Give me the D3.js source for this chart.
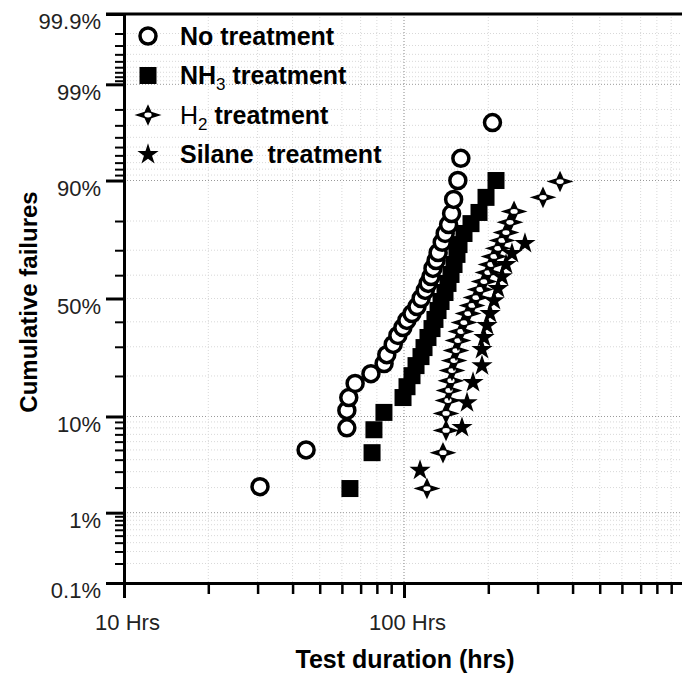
<!DOCTYPE html>
<html>
<head>
<meta charset="utf-8">
<script src="https://cdn.jsdelivr.net/npm/d3@7"></script>
<style>
  body { margin: 0; background: #fff; }
  svg { display: block; font-family: "Liberation Sans", Arial, sans-serif; }
</style>
</head>
<body>
<svg id="chart" width="682" height="680"></svg>
<script>
// failure data (hours, cumulative %)
var noTreatHours = [30.6, 44.7, 62.5, 62.5, 63.5, 66.9, 76.2, 84.9, 86.8, 91.5, 95.1, 99.1, 102.4, 106.8, 111.3, 115.1, 119.1, 122.0, 124.9, 126.9, 130.2, 132.4, 136.9, 140.3, 144.3, 147.9, 150.4, 155.7, 159.6, 207];
var noTreatPct = [2.05, 5.0, 8.0, 11.2, 14.1, 17.8, 20.7, 24.0, 27.1, 30.9, 34.4, 37.6, 40.6, 43.5, 46.5, 50.0, 53.5, 56.5, 59.4, 62.8, 66.0, 69.1, 72.9, 76.0, 78.9, 82.2, 85.9, 90.0, 93.6, 97.2];

var nh3Hours = [64.1, 76.9, 78.1, 84.8, 99.2, 102.5, 106.8, 110.4, 115.0, 117.9, 121.8, 125.9, 129.0, 132.3, 135.6, 140.1, 143.6, 147.2, 150.9, 154.6, 157.2, 163.8, 173.5, 185.3, 196.3, 213.1];
var nh3Pct = [1.95, 4.7, 7.7, 10.8, 14.1, 16.9, 20.1, 23.3, 26.4, 29.7, 33.6, 37.2, 41.0, 44.8, 48.7, 52.6, 56.5, 60.3, 64.4, 68.4, 72.1, 76.0, 79.2, 82.5, 86.4, 90.0];

var h2Hours = [120.8, 137.8, 141.3, 141.3, 143.6, 144.8, 147.2, 148.4, 150.9, 153.4, 155.9, 159.8, 163.8, 169.3, 175.0, 180.8, 186.9, 193.1, 199.5, 204.5, 209.6, 216.6, 223.9, 231.4, 239.1, 247.2, 313.6, 360.8];
var h2Pct = [1.95, 4.7, 7.6, 10.6, 13.4, 15.9, 18.6, 21.7, 25.0, 28.6, 32.4, 36.0, 39.7, 43.5, 47.0, 50.4, 53.9, 57.3, 61.1, 64.4, 67.6, 70.7, 73.6, 76.3, 79.6, 82.8, 86.4, 89.8];

var silaneHours = [114.1, 161.1, 167.9, 176.4, 189.9, 189.9, 193.1, 197.9, 202.9, 209.6, 216.6, 223.9, 231.4, 243.0, 270.4];
var silanePct = [3.1, 8.05, 12.9, 18.1, 23.3, 29.0, 33.6, 38.5, 43.5, 49.1, 54.3, 59.4, 64.4, 68.8, 72.5];

// axis ticks
var yMajor = [0.1, 1, 10, 50, 90, 99, 99.9];
var yMinor = [0.2, 0.3, 0.4, 0.5, 0.6, 0.7, 0.8, 0.9, 2, 3, 4, 5, 6, 7, 8, 9, 20, 30, 40, 60, 70, 80,
  91, 92, 93, 94, 95, 96, 97, 98, 99.1, 99.2, 99.3, 99.4, 99.5, 99.6, 99.7, 99.8];
var xMajor = [10, 100];
var xMinor = [20, 30, 40, 50, 60, 70, 80, 90, 200, 300, 400, 500, 600, 700, 800, 900];
var legendNames = ["No treatment", "NH3 treatment", "H2 treatment", "Silane  treatment"];

// inverse normal cdf (Acklam)
function probit(p) {
  var a = [-39.69683028665376, 220.9460984245205, -275.9285104469687, 138.3577518672690, -30.66479806614716, 2.506628277459239];
  var b = [-54.47609879822406, 161.5858368580409, -155.6989798598866, 66.80131188771972, -13.28068155288572];
  var c = [-0.007784894002430293, -0.3223964580411365, -2.400758277161838, -2.549732539343734, 4.374664141464968, 2.938163982698783];
  var d = [0.007784695709041462, 0.3224671290700398, 2.445134137142996, 3.754408661907416];
  var q, r;
  if (p < 0.02425) {
    q = Math.sqrt(-2 * Math.log(p));
    return (((((c[0]*q+c[1])*q+c[2])*q+c[3])*q+c[4])*q+c[5]) / ((((d[0]*q+d[1])*q+d[2])*q+d[3])*q+1);
  } else if (p > 1 - 0.02425) {
    q = Math.sqrt(-2 * Math.log(1 - p));
    return -(((((c[0]*q+c[1])*q+c[2])*q+c[3])*q+c[4])*q+c[5]) / ((((d[0]*q+d[1])*q+d[2])*q+d[3])*q+1);
  }
  q = p - 0.5; r = q * q;
  return (((((a[0]*r+a[1])*r+a[2])*r+a[3])*r+a[4])*r+a[5])*q / (((((b[0]*r+b[1])*r+b[2])*r+b[3])*r+b[4])*r+1);
}

var plotLeft = 124, plotRight = 684, plotTop = 14, plotBottom = 583;
var svg = d3.select("#chart");

var x = d3.scaleLog().domain([10, 1000]).range([plotLeft, plotRight]);
var zScale = d3.scaleLinear().domain([probit(0.001), probit(0.999)]).range([plotBottom, plotTop]);
function y(pct) { return zScale(probit(pct / 100)); }

// grid
var grid = svg.append("g");
var darkY = [1, 10, 90, 99];
grid.selectAll("line.gy")
  .data(yMinor.concat(yMajor).filter(v => v > 0.1 && v < 99.9))
  .enter().append("line")
  .attr("x1", plotLeft).attr("x2", plotRight)
  .attr("y1", d => y(d)).attr("y2", d => y(d))
  .attr("stroke", d => darkY.indexOf(d) >= 0 ? "#999" : "#d8d8d8")
  .attr("stroke-width", 1)
  .attr("stroke-dasharray", "1,2");
grid.selectAll("line.gx")
  .data(xMinor.concat([100]))
  .enter().append("line")
  .attr("x1", d => x(d)).attr("x2", d => x(d))
  .attr("y1", plotTop).attr("y2", plotBottom)
  .attr("stroke", d => d == 100 ? "#888" : "#d8d8d8")
  .attr("stroke-width", 1)
  .attr("stroke-dasharray", "1,2");

// axes
var yMajAxis = d3.axisLeft(zScale)
  .tickValues(yMajor.map(v => probit(v / 100)))
  .tickSize(18).tickSizeOuter(0).tickPadding(5)
  .tickFormat((d, i) => yMajor[i] + "%");
var yMinAxis = d3.axisLeft(zScale)
  .tickValues(yMinor.map(v => probit(v / 100)))
  .tickSize(9).tickSizeOuter(0).tickFormat("");
var xMajAxis = d3.axisBottom(x).tickValues(xMajor).tickSize(15).tickSizeOuter(0).tickPadding(16)
  .tickFormat(d => d + " Hrs");
var xMinAxis = d3.axisBottom(x).tickValues(xMinor).tickSize(11).tickSizeOuter(0).tickFormat("");

var gy2 = svg.append("g").attr("transform", "translate(" + plotLeft + ",0)").call(yMinAxis);
var gy = svg.append("g").attr("transform", "translate(" + plotLeft + ",0)").call(yMajAxis);
var gx2 = svg.append("g").attr("transform", "translate(0," + plotBottom + ")").call(xMinAxis);
var gx = svg.append("g").attr("transform", "translate(0," + plotBottom + ")").call(xMajAxis);

[gy, gy2, gx, gx2].forEach(g => {
  g.selectAll("path.domain").attr("stroke", "#000").attr("stroke-width", 3);
  g.selectAll("line").attr("stroke", "#000");
});
gy.selectAll(".tick line").attr("stroke-width", 3);
gy2.selectAll(".tick line").attr("stroke-width", 2);
gx.selectAll(".tick line").attr("stroke-width", 3);
gx2.selectAll(".tick line").attr("stroke-width", 2.5);
gy.selectAll("text").attr("font-size", 22).attr("fill", "#222").attr("dy", "0.68em")
  .attr("font-family", "Liberation Sans, Arial, sans-serif");
gx.selectAll("text").attr("font-size", 22).attr("fill", "#222")
  .attr("font-family", "Liberation Sans, Arial, sans-serif");
gx.selectAll(".tick text").attr("dx", 3);

// top frame line
svg.append("line").attr("x1", plotLeft - 18).attr("x2", plotRight).attr("y1", plotTop).attr("y2", plotTop)
  .attr("stroke", "#000").attr("stroke-width", 3);

// axis titles
svg.append("text").attr("x", 405).attr("y", 668).attr("text-anchor", "middle")
  .attr("font-size", 25).attr("font-weight", "bold").text("Test duration (hrs)");
svg.append("text").attr("transform", "translate(37,302) rotate(-90)").attr("text-anchor", "middle")
  .attr("font-size", 24).attr("font-weight", "bold").text("Cumulative failures");

// marker drawing
var h2Path = "M-11,0 L-3,-2.5 L0,-9 L3,-2.5 L11,0 L3,2.5 L0,9 L-3,2.5 Z";
function drawCircle(g) {
  g.append("circle").attr("r", 8).attr("fill", "#fff").attr("stroke", "#000").attr("stroke-width", 3.5);
}
function drawSquare(g) {
  g.append("rect").attr("x", -8.5).attr("y", -8.5).attr("width", 17).attr("height", 17).attr("fill", "#000");
}
function drawH2(g) {
  g.append("path").attr("d", h2Path).attr("fill", "#000").attr("stroke", "#000").attr("stroke-width", 1.5);
  g.append("ellipse").attr("rx", 3.6).attr("ry", 2.4).attr("fill", "#fff");
}
function drawStar(g) {
  g.append("path").attr("d", d3.symbol().type(d3.symbolStar).size(140)()).attr("fill", "#000");
}

var series = [
  { hours: silaneHours, pct: silanePct, draw: drawStar },
  { hours: h2Hours, pct: h2Pct, draw: drawH2 },
  { hours: nh3Hours, pct: nh3Pct, draw: drawSquare },
  { hours: noTreatHours, pct: noTreatPct, draw: drawCircle }
];

series.forEach(s => {
  var pts = svg.append("g").selectAll("g")
    .data(s.hours.map((h, i) => [h, s.pct[i]]))
    .enter().append("g")
    .attr("transform", d => "translate(" + x(d[0]) + "," + y(d[1]) + ")");
  pts.each(function() { s.draw(d3.select(this)); });
});

// legend
var legendDraw = [drawCircle, drawSquare, drawH2, drawStar];
var leg = svg.append("g");
legendNames.forEach((name, i) => {
  var row = leg.append("g").attr("transform", "translate(148," + (36 + i * 39.5) + ")");
  legendDraw[i](row);
  var t = row.append("text").attr("x", 32).attr("y", 8.5)
    .attr("font-size", 25).attr("font-weight", "bold")
    .style("white-space", "pre");
  if (i == 1) {
    t.append("tspan").text("NH");
    t.append("tspan").attr("font-size", 17).attr("font-weight", "normal").attr("dy", 6).text("3");
    t.append("tspan").attr("dy", -6).text(" treatment");
  } else if (i == 2) {
    t.append("tspan").attr("font-weight", "normal").text("H");
    t.append("tspan").attr("font-size", 17).attr("font-weight", "normal").attr("dy", 6).text("2");
    t.append("tspan").attr("dy", -6).text(" treatment");
  } else {
    t.text(name);
  }
});
</script>
</body>
</html>
